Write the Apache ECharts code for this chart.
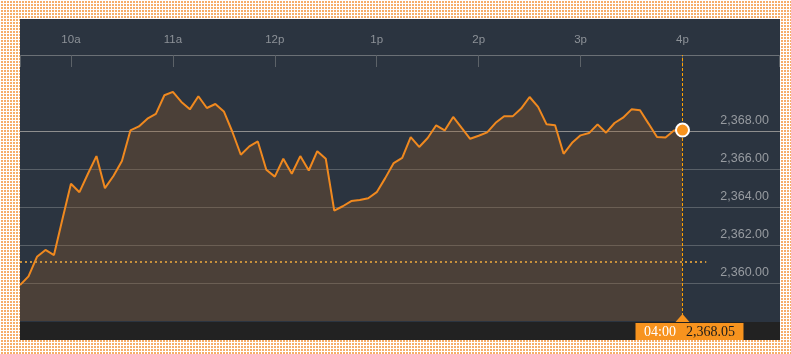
<!DOCTYPE html>
<html>
<head>
<meta charset="utf-8">
<script src="https://cdn.jsdelivr.net/npm/echarts@6/dist/echarts.min.js"></script>
<style>
  html, body {
    margin: 0;
    padding: 0;
    width: 791px;
    height: 354px;
    overflow: hidden;
    background-color: #fff;
    background-image: linear-gradient(90deg, #fff 1px, transparent 1px), linear-gradient(#fff 1px, #f6ae6a 1px);
    background-size: 3px 3px;
  }
  #chart {
    position: absolute;
    left: 20px;
    top: 19px;
    width: 760px;
    height: 321px;
  }
</style>
</head>
<body>
<div id="chart"></div>
<script>
// minutes since 9:00, one point every 5 minutes from 9:30 to 16:00
const startMinute = 30
const stepMinutes = 5
// index values
const values = [
  2359.89, 2360.35, 2361.38, 2361.74, 2361.47, 2363.37, 2365.22, 2364.78, 2365.75, 2366.68,
  2364.99, 2365.63, 2366.42, 2368.03, 2368.24, 2368.65, 2368.90, 2369.88, 2370.06, 2369.53,
  2369.14, 2369.83, 2369.21, 2369.42, 2369.03, 2367.96, 2366.75, 2367.19, 2367.45, 2365.96,
  2365.60, 2366.54, 2365.75, 2366.68, 2365.92, 2366.94, 2366.54, 2363.81, 2364.04, 2364.31,
  2364.37, 2364.46, 2364.78, 2365.52, 2366.31, 2366.58, 2367.68, 2367.16, 2367.63, 2368.30,
  2368.03, 2368.74, 2368.16, 2367.59, 2367.75, 2367.93, 2368.43, 2368.78, 2368.77, 2369.18,
  2369.79, 2369.27, 2368.35, 2368.30, 2366.80, 2367.38, 2367.77, 2367.89, 2368.35, 2367.91,
  2368.42, 2368.70, 2369.14, 2369.09, 2368.39, 2367.68, 2367.66, 2368.03, 2368.05
]
const prevClose = 2361.13
const hourTicks = [60, 120, 180, 240, 300, 360, 420]
const hourLabels = ['10a', '11a', '12p', '1p', '2p', '3p', '4p']
const priceTicks = [2360, 2362, 2364, 2366, 2368]

const xMin = 30
const xMax = 477.4
const yMin = 2358
const yMax = 2372

const seriesData = values.map((v, i) => [startMinute + i * stepMinutes, v])
const last = seriesData[seriesData.length - 1]

function fmtPrice (v) {
  return v.toLocaleString('en-US', { minimumFractionDigits: 2, maximumFractionDigits: 2 })
}
function fmtTime (m) {
  const h = Math.floor(m / 60) + 9
  const mm = m % 60
  const hh = h > 12 ? h - 12 : h
  return String(hh).padStart(2, '0') + ':' + String(mm).padStart(2, '0')
}

const chart = echarts.init(document.getElementById('chart'))

const option = {
  backgroundColor: '#2b3440',
  animation: false,
  textStyle: { fontFamily: 'Liberation Sans, Arial, sans-serif' },
  grid: { left: 0, right: 0, top: 36, bottom: 19 },
  graphic: [
    // dark strip under the plot
    {
      type: 'rect',
      left: 0,
      bottom: 0,
      shape: { width: 760, height: 18 },
      style: { fill: '#222222' },
      z: 1
    }
  ],
  xAxis: {
    type: 'value',
    position: 'top',
    min: xMin,
    max: xMax,
    axisLine: { show: true, lineStyle: { color: '#6b7076', width: 1 } },
    axisTick: {
      show: true,
      inside: true,
      length: 12,
      customValues: [xMin].concat(hourTicks, [477]),
      lineStyle: { color: '#5c6268', width: 1 }
    },
    axisLabel: {
      customValues: hourTicks,
      color: '#8d9298',
      fontSize: 11.5,
      margin: 9,
      formatter: function (v) { return hourLabels[hourTicks.indexOf(v)] }
    },
    splitLine: { show: false }
  },
  yAxis: {
    type: 'value',
    position: 'right',
    min: yMin,
    max: yMax,
    axisLine: { show: false },
    axisTick: { show: false, customValues: priceTicks },
    axisLabel: {
      customValues: priceTicks,
      inside: true,
      margin: 11,
      color: '#979ba0',
      fontSize: 12.5,
      verticalAlign: 'bottom',
      padding: [0, 0, 4, 0],
      formatter: fmtPrice
    },
    splitLine: {
      show: true,
      lineStyle: {
        color: ['#596068', '#596068', '#596068', '#596068', '#8e8e8e'],
        width: 1
      }
    }
  },
  series: [
    {
      type: 'line',
      data: seriesData,
      symbol: 'none',
      lineStyle: { color: '#f0891f', width: 2 },
      areaStyle: { color: 'rgba(150, 92, 40, 0.3)', opacity: 1 },
      z: 3,
      markLine: {
        silent: true,
        symbol: 'none',
        label: { show: false },
        data: [
          [
            { coord: [xMin, prevClose], lineStyle: { color: '#c8913c', width: 2, type: [2, 3], opacity: 1 } },
            { coord: [434, prevClose] }
          ],
          [
            { coord: [last[0], yMin], lineStyle: { color: '#ffa200', width: 1, type: [3, 2], opacity: 1 } },
            { coord: [last[0], yMax] }
          ]
        ]
      },
      markPoint: {
        silent: true,
        data: [
          {
            coord: last,
            symbol: 'circle',
            symbolSize: 13,
            itemStyle: { color: '#f7931e', borderColor: '#ffffff', borderWidth: 2 },
            label: { show: false }
          },
          {
            coord: [last[0], yMin],
            symbol: 'triangle',
            symbolSize: [14, 8],
            symbolOffset: [0, -3],
            itemStyle: { color: '#f7931e' },
            label: { show: false }
          },
          {
            coord: [last[0], yMin],
            symbol: 'rect',
            symbolSize: [108, 18],
            symbolOffset: [7, 11],
            itemStyle: { color: '#f7931e' },
            label: {
              show: true,
              position: 'inside',
              formatter: '{t|' + fmtTime(last[0]) + '}   {v|' + fmtPrice(last[1]) + '}',
              rich: {
                t: { color: '#ffffff', fontFamily: 'Liberation Serif, serif', fontSize: 14 },
                v: { color: '#1a1a1a', fontFamily: 'Liberation Serif, serif', fontSize: 14 }
              }
            }
          }
        ]
      }
    }
  ]
}

chart.setOption(option)
</script>
</body>
</html>
